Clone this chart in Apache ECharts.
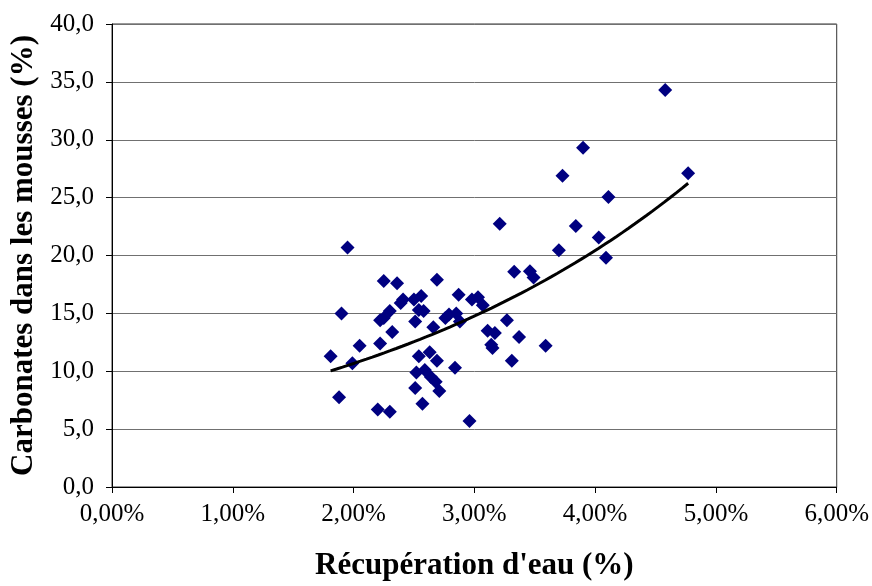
<!DOCTYPE html>
<html>
<head>
<meta charset="utf-8">
<script src="https://cdn.jsdelivr.net/npm/echarts@6/dist/echarts.min.js"></script>
<style>
html,body{margin:0;padding:0;background:#fff;}
#chart{width:872px;height:586px;}
</style>
</head>
<body>
<div id="chart"></div>
<script>
// Water recovery (%) values
const recovery = [1.81,1.88,1.90,1.95,1.99,2.05,2.20,2.22,2.22,2.25,2.25,2.30,2.32,2.30,2.36,2.39,2.41,2.50,2.51,2.51,2.52,2.54,2.54,2.56,2.57,2.58,2.59,2.63,2.64,2.66,2.68,2.69,2.69,2.71,2.76,2.79,2.84,2.85,2.88,2.87,2.96,2.98,3.03,3.07,3.11,3.14,3.15,3.17,3.21,3.27,3.31,3.33,3.37,3.46,3.49,3.59,3.70,3.73,3.84,3.90,4.03,4.09,4.11,4.58,4.77];
// Carbonates in foam (%) values
const carbonates = [11.3,7.75,15.0,20.7,10.7,12.2,6.7,12.4,14.4,17.8,14.6,6.5,13.4,15.2,17.6,15.9,16.2,16.2,14.3,8.55,9.9,11.3,15.3,16.5,7.2,15.2,10.1,11.65,9.5,13.8,9.1,10.9,17.9,8.3,14.6,14.9,10.3,15.0,14.3,16.6,5.7,16.2,16.4,15.7,13.5,12.3,12.0,13.3,22.75,14.4,10.9,18.6,12.95,18.65,18.1,12.2,20.45,26.9,22.55,29.3,21.55,19.8,25.05,34.3,27.1];
const xTickLabels = ['0,00%','1,00%','2,00%','3,00%','4,00%','5,00%','6,00%'];
const yTickLabels = ['0,0','5,0','10,0','15,0','20,0','25,0','30,0','35,0','40,0'];
const xTitle = "Récupération d'eau (%)";
const yTitle = "Carbonates dans les mousses (%)";

const points = recovery.map((x, i) => [x, carbonates[i]]);

// Exponential trendline fitted to the data (least squares on ln y)
const n = recovery.length;
let sx = 0, sy = 0, sxx = 0, sxy = 0;
for (let i = 0; i < n; i++) {
  const lx = recovery[i], ly = Math.log(carbonates[i]);
  sx += lx; sy += ly; sxx += lx * lx; sxy += lx * ly;
}
const b = (n * sxy - sx * sy) / (n * sxx - sx * sx);
const lnA = (sy - b * sx) / n;
const xMin = Math.min(...recovery), xMax = Math.max(...recovery);
const trend = [];
for (let k = 0; k <= 60; k++) {
  const x = xMin + (xMax - xMin) * k / 60;
  trend.push([x, Math.exp(lnA + b * x)]);
}

const font = 'Liberation Serif, Times New Roman, serif';
const chart = echarts.init(document.getElementById('chart'), null, {renderer: 'canvas'});
chart.setOption({
  animation: false,
  backgroundColor: '#fff',
  grid: {left: 112, right: 35, top: 24, bottom: 97, show: true, borderColor: '#333', borderWidth: 1, backgroundColor: 'transparent'},
  xAxis: {
    type: 'value', min: 0, max: 6, interval: 1,
    name: xTitle, nameLocation: 'middle', nameGap: 63,
    nameTextStyle: {fontFamily: font, fontSize: 31, fontWeight: 'bold', color: '#000'},
    axisLine: {show: true, lineStyle: {color: '#000', width: 1}},
    axisTick: {show: true, inside: false, length: 6, lineStyle: {color: '#000'}},
    axisLabel: {fontFamily: font, fontSize: 25, color: '#000', margin: 15,
      formatter: v => xTickLabels[Math.round(v)]},
    splitLine: {show: false}
  },
  yAxis: {
    type: 'value', min: 0, max: 40, interval: 5,
    name: yTitle, nameLocation: 'middle', nameGap: 72, nameRotate: 90,
    nameTextStyle: {fontFamily: font, fontSize: 31, fontWeight: 'bold', color: '#000'},
    axisLine: {show: true, lineStyle: {color: '#000', width: 1}},
    axisTick: {show: true, inside: false, length: 6, lineStyle: {color: '#000'}},
    axisLabel: {fontFamily: font, fontSize: 25, color: '#000', margin: 18,
      formatter: v => yTickLabels[Math.round(v / 5)]},
    splitLine: {show: true, lineStyle: {color: '#707070', width: 1}}
  },
  series: [
    {
      type: 'scatter', data: points, symbol: 'diamond', symbolSize: 14,
      itemStyle: {color: '#000080', opacity: 1}, z: 3
    },
    {
      type: 'line', data: trend, showSymbol: false, smooth: false,
      lineStyle: {color: '#000', width: 3}, z: 4
    }
  ]
});
</script>
</body>
</html>
